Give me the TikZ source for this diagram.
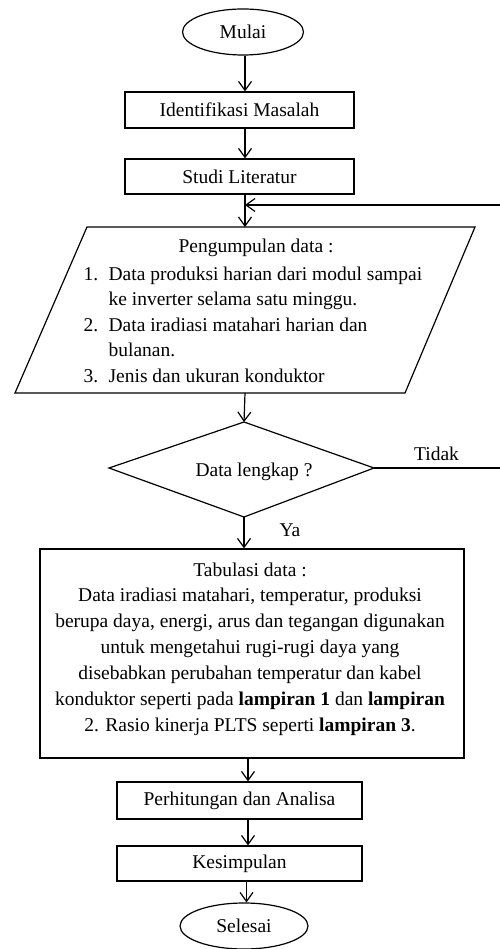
\documentclass[tikz,border=0pt]{standalone}
\usepackage{fontspec}
\setmainfont{Liberation Serif}
\usetikzlibrary{arrows.meta,shapes.geometric}
\begin{document}
\begin{tikzpicture}[x=1pt,y=-1pt,
  line width=1.2pt,
  every node/.style={font=\fontsize{19.5}{25.5}\selectfont, inner sep=0pt},
  box/.style={draw, rectangle},
  term/.style={draw, ellipse},
  arr/.style={-{Straight Barb[length=9pt,width=13pt]}},
]
\useasboundingbox (0,0) rectangle (499,949);

% spine x positions
\coordinate (s1) at (245,0);
\coordinate (s2) at (248,0);
\coordinate (s3) at (246.5,0);

% nodes
\node[term, minimum width=121pt, minimum height=46pt] (mulai) at (243,32) {Mulai};
\node[box, minimum width=229pt, minimum height=36pt] (ident) at (239.5,110) {Identifikasi Masalah};
\node[box, minimum width=229pt, minimum height=35pt] (studi) at (239.5,176.5) {Studi Literatur};

% parallelogram (data input)
\draw (87,227) -- (475,227) -- (405,393) -- (15,393) -- cycle;
\coordinate (pgtop) at (245,227);
\coordinate (pgbot) at (245,393);
\node[anchor=base] (pgtitle) at (256,252.5) {Pengumpulan data :};
\node[anchor=base west] (pglist) at (83,280) {\begin{tabular}[t]{@{}l@{\hspace{10.4pt}}l@{}}1. & Data produksi harian dari modul sampai\\
 & ke inverter selama satu minggu.\\
2. & Data iradiasi matahari harian dan\\
 & bulanan.\\
3. & Jenis dan ukuran konduktor\end{tabular}};

% decision diamond
\coordinate (dtop) at (244,422);
\coordinate (dright) at (374,468);
\coordinate (dbot) at (244,517);
\coordinate (dleft) at (109,468);
\draw (dtop) -- (dright) -- (dbot) -- (dleft) -- cycle;
\node[anchor=base] (dtext) at (254,476) {Data lengkap ?};
\node[anchor=base] (tidak) at (436.5,460) {Tidak};
\node[anchor=base] (ya) at (290,536.5) {Ya};

% tabulation box
\node[box, minimum width=424pt, minimum height=209pt] (tab) at (252,653.5) {};
\node[anchor=base, font=\fontsize{19.5}{25.9}\selectfont] (tabtext) at (250,576) {\begin{tabular}[t]{@{}c@{}}Tabulasi data :\\
Data iradiasi matahari, temperatur, produksi\\
berupa daya, energi, arus dan tegangan digunakan\\
untuk mengetahui rugi-rugi daya yang\\
disebabkan perubahan temperatur dan kabel\\
konduktor seperti pada \textbf{lampiran 1} dan \textbf{lampiran}\\
2. Rasio kinerja PLTS seperti \textbf{lampiran 3}.\end{tabular}};

\node[box, minimum width=245pt, minimum height=37pt] (perh) at (239.5,800.5) {Perhitungan dan Analisa};
\node[box, minimum width=245pt, minimum height=35pt] (kesim) at (239.5,863.5) {Kesimpulan};
\node[term, minimum width=128pt, minimum height=46pt] (selesai) at (244,926) {Selesai};

% connectors
\draw[arr] (s1 |- mulai.south) -- (s1 |- ident.north);
\draw[arr] (s1 |- ident.south) -- (s1 |- studi.north);
\draw[arr] (s1 |- studi.south) -- (pgtop);
\draw[arr] (pgbot) -- (dtop);
\draw[arr] (dbot) -- (dbot |- tab.north);
\draw[arr] (s2 |- tab.south) -- (s2 |- perh.north);
\draw[arr] (s2 |- perh.south) -- (s2 |- kesim.north);
\draw[arr] (s3 |- kesim.south) -- (s3 |- selesai.north);

% feedback loop (Tidak)
\coordinate (fb) at (245,205);
\draw[arr] (dright) -- (520,468) |- (fb);
\end{tikzpicture}
\end{document}
